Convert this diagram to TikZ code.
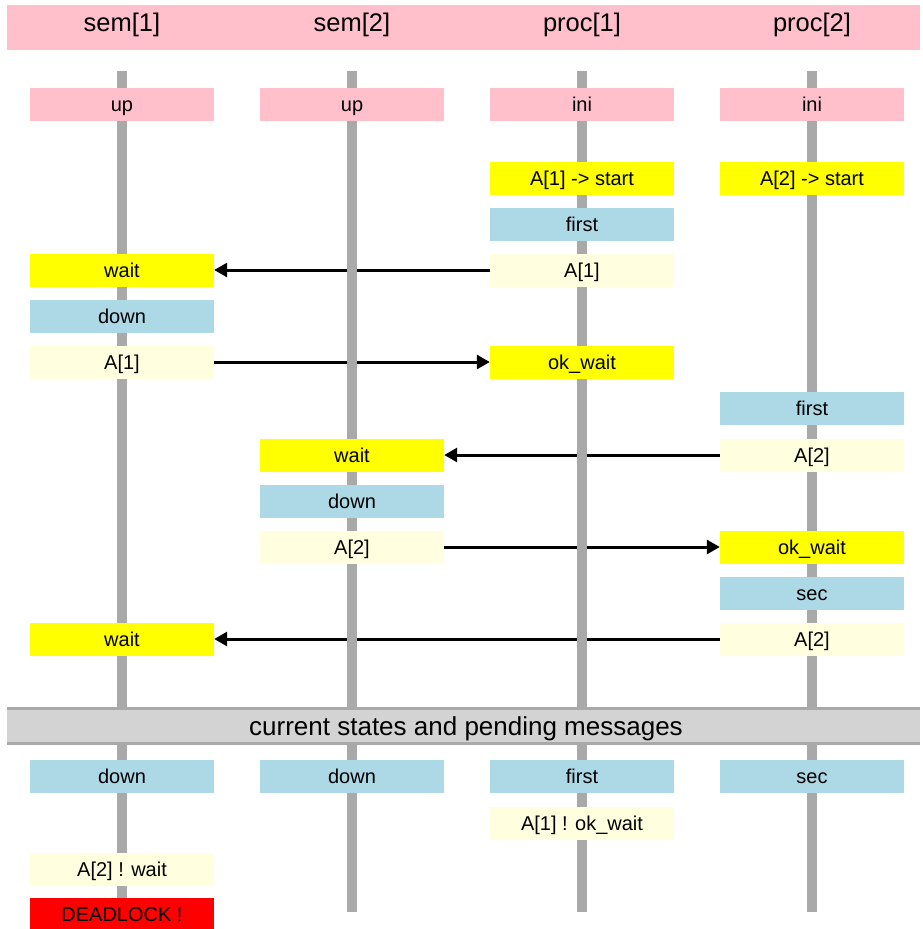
\documentclass[tikz,border=0pt]{standalone}
\usepackage{fontspec}
\setmainfont{Liberation Sans}
\usetikzlibrary{arrows.meta}
\pgfdeclarelayer{msgs}
\pgfdeclarelayer{lines}
\pgfsetlayers{msgs,lines,main}
\definecolor{hdpink}{HTML}{FFC0CB}
\definecolor{lblue}{HTML}{ADD8E6}
\definecolor{cream}{HTML}{FFFFE0}
\definecolor{sigyel}{HTML}{FFFF00}
\definecolor{alarm}{HTML}{FF0000}
\definecolor{lifegray}{HTML}{A9A9A9}
\definecolor{sepgray}{HTML}{D3D3D3}
\begin{document}
\begin{tikzpicture}[x=1pt,y=-1pt]
    \tikzstyle{box}=[minimum width=184pt, minimum height=33pt, inner sep=0pt, text height=14pt, text depth=0pt, font=\fontsize{20}{20}\selectfont]
    \tikzstyle{pk}=[box, fill=hdpink]
    \tikzstyle{yel}=[box, fill=sigyel]
    \tikzstyle{blu}=[box, fill=lblue]
    \tikzstyle{cre}=[box, fill=cream]
    \tikzstyle{dead}=[box, fill=alarm]
    \tikzstyle{title}=[inner sep=0pt, anchor=base, font=\fontsize{25.5}{25.5}\selectfont]
    \tikzstyle{life}=[line width=10.5pt, draw=lifegray]
    \tikzstyle{msg}=[line width=3pt, -{Triangle[length=13pt,width=14pt]}]

    \useasboundingbox (0,0) rectangle (922,929);
    \fill[hdpink] (7,5) rectangle (920,50);

    \node[title] (sem1) at (122,31) {sem[1]};
    \node[title] (sem2) at (352,31) {sem[2]};
    \node[title] (proc1) at (582,31) {proc[1]};
    \node[title] (proc2) at (812,31) {proc[2]};

    \begin{pgfonlayer}{lines}
      \foreach \x/\n in {122/sem1, 352/sem2, 582/proc1, 812/proc2} {
        \coordinate (\n top) at (\x,71);
        \coordinate (\n bot) at (\x,912);
        \draw[life] (\n top) -- (\n bot);
      }
    \end{pgfonlayer}

    \node[pk] (up1) at (122,104) {up};
    \node[pk] (up2) at (352,104) {up};
    \node[pk] (ini1) at (582,104) {ini};
    \node[pk] (ini2) at (812,104) {ini};

    \node[yel] (start1) at (582,178) {A[1] -> start};
    \node[yel] (start2) at (812,178) {A[2] -> start};
    \node[blu] (first1) at (582,224) {first};
    \node[yel] (waita) at (122,270) {wait};
    \node[cre] (askA) at (582,270) {A[1]};
    \node[blu] (downa) at (122,316) {down};
    \node[cre] (replyA) at (122,362) {A[1]};
    \node[yel] (okA) at (582,362) {ok\_wait};
    \node[blu] (first2) at (812,408) {first};
    \node[yel] (waitb) at (352,455) {wait};
    \node[cre] (askB) at (812,455) {A[2]};
    \node[blu] (downb) at (352,501) {down};
    \node[cre] (replyB) at (352,547) {A[2]};
    \node[yel] (okB) at (812,547) {ok\_wait};
    \node[blu] (sec2) at (812,593) {sec};
    \node[yel] (waitc) at (122,639) {wait};
    \node[cre] (askC) at (812,639) {A[2]};

    \begin{pgfonlayer}{msgs}
      \draw[msg] (askA) -- (waita);
      \draw[msg] (replyA) -- (okA);
      \draw[msg] (askB) -- (waitb);
      \draw[msg] (replyB) -- (okB);
      \draw[msg] (askC) -- (waitc);
    \end{pgfonlayer}

    \fill[sepgray] (7,707) rectangle (920,745);
    \draw[lifegray, line width=3pt] (7,708.5) -- (920,708.5);
    \draw[lifegray, line width=3pt] (7,743.5) -- (920,743.5);
    \node[title, font=\fontsize{26}{26}\selectfont] (pending) at (466,735) {current states and pending messages};

    \node[blu] (cur1) at (122,776) {down};
    \node[blu] (cur2) at (352,776) {down};
    \node[blu] (cur3) at (582,776) {first};
    \node[blu] (cur4) at (812,776) {sec};
    \node[cre] (pend1) at (582,823) {A[1] ! ok\_wait};
    \node[cre] (pend2) at (122,869) {A[2] ! wait};
    \node[dead] (dl) at (122,914) {DEADLOCK !};
\end{tikzpicture}
\end{document}
